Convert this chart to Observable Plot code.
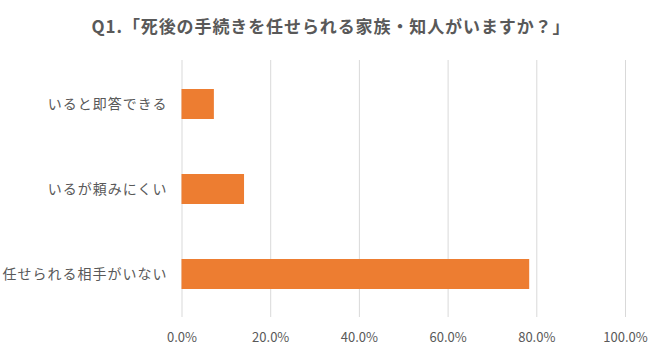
<!DOCTYPE html>
<html><head><meta charset="utf-8">
<script src="https://cdn.jsdelivr.net/npm/d3@7"></script>
<script src="https://cdn.jsdelivr.net/npm/@observablehq/plot@0.6"></script>
<style>
body{margin:0;background:#fff;font-family:"Noto Sans CJK JP","Noto Sans",sans-serif;}
#title{height:50px;line-height:52px;text-align:center;font-size:17px;font-weight:bold;color:#595959;white-space:nowrap;letter-spacing:0.9px;}
#chart svg g[aria-label="y-axis tick label"] text{letter-spacing:1px;}
</style></head><body>
<div id="title">Q1.「死後の手続きを任せられる家族・知人がいますか？」</div>
<div id="chart"></div>
<script>
const categories = ["いると即答できる", "いるが頼みにくい", "任せられる相手がいない"];
const values = [7.3, 14.1, 78.4];
const xTicks = [0, 20, 40, 60, 80, 100];
const data = categories.map((c, i) => ({category: c, value: values[i]}));
const fmt = d => d.toFixed(1) + "%";
const chart = Plot.plot({
  width: 662, height: 304,
  marginTop: 10, marginBottom: 37, marginLeft: 181.5, marginRight: 37,
  style: {fontFamily: '"Noto Sans CJK JP","Noto Sans",sans-serif', fontSize: "13px", color: "#595959", background: "white"},
  x: {domain: [0, 100], label: null},
  y: {domain: categories, paddingInner: 0.65, paddingOuter: 0.325, label: null},
  marks: [
    Plot.gridX(xTicks, {stroke: "#d9d9d9", strokeOpacity: 1, strokeWidth: 1}),
    Plot.barX(data, {x: "value", y: "category", fill: "#ED7D31"}),
    Plot.axisX({ticks: xTicks, tickSize: 0, tickPadding: 15, tickFormat: fmt, fontSize: 13, label: null}),
    Plot.axisY({tickSize: 0, tickPadding: 14.5, fontSize: 14, label: null})
  ]
});
document.getElementById("chart").appendChild(chart);
</script>
</body></html>
